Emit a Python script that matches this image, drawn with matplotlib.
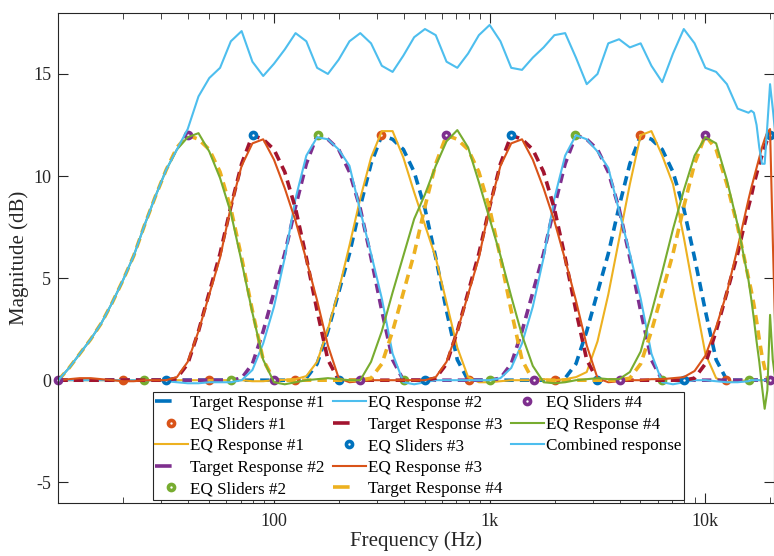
import numpy as np
import matplotlib
matplotlib.use('Agg')
import matplotlib.pyplot as plt
from matplotlib.lines import Line2D

plt.rcParams['font.family'] = ['Liberation Serif', 'DejaVu Serif']
plt.rcParams['axes.unicode_minus'] = False

# frequency grid: 1/6-octave steps (m/20 decades), finer near 20 kHz
m_grid = np.r_[np.arange(20, 85), np.arange(84.25, 86.51, 0.25)]
freq = 10 ** (m_grid / 20)

# EQ sliders (1/3-octave bands, every 4th band per set)
slider_f1 = [20, 50, 125, 315, 800, 2000, 5000, 12500]
slider_g1 = [0, 0, 0, 12, 0, 0, 12, 0]
slider_f2 = [25, 63, 160, 400, 1000, 2500, 6300, 16000]
slider_g2 = [0, 0, 12, 0, 0, 12, 0, 0]
slider_f3 = [31.5, 80, 200, 500, 1250, 3150, 8000, 20000]
slider_g3 = [0, 12, 0, 0, 12, 0, 0, 12]
slider_f4 = [10, 40, 100, 250, 630, 1600, 4000, 10000, 20000]
slider_g4 = [0, 12, 0, 0, 12, 0, 0, 12, 0]

bell = [0.1, 0.8, 2.4, 4.3, 6.2, 8.5, 10.6, 12, 11.8, 11.3, 10.2, 8.4, 6.0, 3.4, 1.0, 0]

target_1 = [0] * 23 + bell + [0] * 8 + bell + [0] * 2 + [0] * 10
target_2 = [0] * 17 + bell + [0] * 8 + bell + [0] * 8 + [0] * 10
target_3 = ([0] * 11 + bell + [0] * 8 + bell + [0] * 8
            + [0.1, 0.8, 2.4, 4.3, 6.2, 8.5]
            + [9.0, 9.6, 10.1, 10.6, 11.0, 11.4, 11.8, 12.0, 12.0, 12.0])
target_4 = ([0, 0.6, 1.3, 2.0, 2.8, 3.8, 4.9, 6.1, 7.6, 9.0, 10.3, 11.4, 12]
            + [11.8, 11.3, 10.2, 8.4, 6.0, 3.4, 1.0, 0]
            + [0] * 8 + bell + [0] * 8
            + [0.1, 0.8, 2.4, 4.3, 6.2, 8.5, 10.6, 12]
            + [11.3, 9.6, 7.5, 5.0]
            + [4.4, 3.7, 2.9, 2.0, 1.2, 0.6, 0.15, 0, 0, 0])

eq_1 = ([0] * 18 + [-0.05, -0.05, 0, 0.02]
        + [0.05, 0.2, 0.9, 2.5, 4.4, 6.6, 8.9, 10.9, 12.2, 12.2,
           10.9, 9.2, 7.6, 6.0, 3.8, 1.6, 0.15, -0.1, -0.1, -0.05]
        + [0, 0, 0, 0.05]
        + [0, 0.05, 0.15, 0.4, 1.9, 4.2, 6.9, 9.6, 12.0, 12.2,
           11.0, 9.6, 7.0, 4.1, 1.3, 0.1, -0.1]
        + [-0.05, 0] + [0] * 10)
eq_2 = ([0] * 10 + [-0.05, -0.1, -0.15, -0.15, -0.1, -0.1]
        + [-0.1, 0.0, 0.5, 1.8, 3.6, 6.0, 8.9, 11.0, 11.9, 11.8,
           11.3, 10.5, 8.3, 6.2, 4.0, 1.3, -0.1, -0.2, -0.1, 0]
        + [0, 0, 0, 0]
        + [0, 0.1, 0.6, 1.8, 3.6, 6.0, 8.9, 11.0, 12.0, 11.8,
           11.2, 10.4, 8.3, 6.2, 4.0, 1.3, -0.1, -0.2, -0.1, 0]
        + [0, -0.05, -0.1, -0.1, -0.05] + [0] * 10)
eq_3 = ([0, 0.05, 0.1, 0.1, 0.05, 0, -0.05, -0.05, 0, 0]
        + [0.0, 0.15, 0.9, 2.4, 4.2, 6.0, 8.5, 10.5, 11.6, 11.8,
           10.8, 9.4, 7.8, 5.9, 3.9, 1.7, 0.1, -0.1, -0.05, 0]
        + [0, 0, 0, 0]
        + [0.0, 0.15, 0.9, 2.4, 4.2, 6.0, 8.5, 10.5, 11.6, 11.8,
           10.8, 9.4, 7.8, 5.9, 3.9, 1.7, 0.1, -0.1, -0.05, 0]
        + [0, 0.05, 0.05, 0.1, 0.15, 0.45, 1.2, 2.6, 4.3, 6.5, 8.85]
        + [9.4, 9.9, 10.4, 10.9, 11.4, 11.8, 12.15, 12.3, 6.9, 2.0])
eq_4 = ([0, 0.6, 1.3, 2.0, 2.8, 3.8, 4.9, 6.1, 7.6, 9.0, 10.3, 11.3, 11.9]
        + [12.1, 11.2, 9.9, 8.2, 5.8, 3.3, 1.0, -0.1, -0.2, -0.1, 0, 0.05, 0.1, 0.05, 0]
        + [0.0, 0.9, 2.4, 4.3, 6.1, 7.9, 9.1, 10.5, 11.7, 12.25,
           11.4, 9.7, 7.9, 6.1, 4.1, 2.2, 0.7, -0.1, -0.15]
        + [-0.1, 0, 0.05, 0.1, 0.05, 0.05]
        + [0.4, 1.4, 3.3, 5.3, 7.4, 9.3, 11.0, 11.9, 11.6, 9.8, 7.6, 4.9]
        + [4.0, 3.0, 1.9, 0.9, -0.3, -1.4, -0.5, 3.2, 1.0, 0])
combined = ([0, 0.6, 1.3, 2.0, 2.8, 3.8, 4.9, 6.1, 7.6, 9.0, 10.3, 11.3, 12.3]
            + [13.9, 14.8, 15.3, 16.6, 17.1, 15.6, 14.9, 15.5, 16.2, 17.0,
               16.6, 15.3, 15.0, 15.7, 16.6, 17.0, 16.5, 15.4, 15.1, 15.9]
            + [16.8, 17.2, 16.9, 15.6, 15.3, 16.0, 16.9, 17.4, 16.6, 15.3,
               15.2, 15.8, 16.3, 16.9, 17.0, 15.8, 14.5, 15.0, 16.5, 16.7]
            + [16.3, 16.5, 15.4, 14.6, 16.0, 17.2, 16.5, 15.3, 15.1, 14.5, 13.3, 13.1]
            + [13.2, 13.1, 12.5, 11.4, 10.6, 10.6, 12.5, 14.5, 13.3, 12.0])

c_blue = '#0072BD'
c_orange = '#D95319'
c_yellow = '#EDB120'
c_purple = '#7E2F8E'
c_green = '#77AC30'
c_cyan = '#4DBEEE'
c_red = '#A2142F'
c_axis = '#262626'

fig = plt.figure(figsize=(7.74, 5.56), dpi=100)
ax = fig.add_axes([58.3 / 774, 53.3 / 556, 715.2 / 774, 490 / 556])

dash = (2.6, 1.7)
tw = 2.6
ew = 1.5

def target(y, color, label):
    ax.plot(freq, y, color=color, lw=tw, dashes=dash, label=label)

def sliders(f, g, color, label):
    ax.plot(f, g, ls='none', marker='o', ms=4.4, mew=2.6, mec=color,
            mfc='white', label=label, clip_on=False)

target(target_1, c_blue, 'Target Response #1')
sliders(slider_f1, slider_g1, c_orange, 'EQ Sliders #1')
ax.plot(freq, eq_1, color=c_yellow, lw=ew, label='EQ Response #1')
target(target_2, c_purple, 'Target Response #2')
sliders(slider_f2, slider_g2, c_green, 'EQ Sliders #2')
ax.plot(freq, eq_2, color=c_cyan, lw=ew, label='EQ Response #2')
target(target_3, c_red, 'Target Response #3')
sliders(slider_f3, slider_g3, c_blue, 'EQ Sliders #3')
ax.plot(freq, eq_3, color=c_orange, lw=ew, label='EQ Response #3')
target(target_4, c_yellow, 'Target Response #4')
sliders(slider_f4, slider_g4, c_purple, 'EQ Sliders #4')
ax.plot(freq, eq_4, color=c_green, lw=ew, label='EQ Response #4')
ax.plot(freq, combined, color=c_cyan, lw=ew, label='Combined response')

ax.set_xscale('log')
ax.set_xlim(10, 20700)
ax.set_ylim(-6, 18)
ax.set_xticks([100, 1000, 10000])
ax.set_xticklabels(['100', '1k', '10k'])
ax.set_yticks([-5, 0, 5, 10, 15])
ax.tick_params(which='both', direction='in', top=True, right=True,
               labelsize=13, colors=c_axis)
ax.tick_params(axis='x', which='major', pad=7.5)
ax.tick_params(axis='y', which='major', pad=5)
ax.tick_params(which='major', length=7, width=0.8)
ax.tick_params(which='minor', length=4, width=0.6)
for s in ax.spines.values():
    s.set_color(c_axis)
    s.set_linewidth(0.8)
ax.set_xlabel('Frequency (Hz)', fontsize=15, color=c_axis, labelpad=1)
ax.set_ylabel('Magnitude (dB)', fontsize=15, color=c_axis, labelpad=3)

# legend: dashed handles show one short dash, blanks pad the last column
handles, labels = ax.get_legend_handles_labels()
proxy = []
for h, lab in zip(handles, labels):
    if lab.startswith('Target'):
        proxy.append(Line2D([], [], color=h.get_color(), lw=tw, dashes=(4.6, 10)))
    else:
        proxy.append(h)
blank = Line2D([], [], alpha=0)
proxy += [blank, blank]
labels += ['', '']
leg = ax.legend(proxy, labels, ncol=3, loc='lower center', bbox_to_anchor=(0.5035, 0.0055),
                borderaxespad=0, fontsize=12.3, handlelength=1.9, handletextpad=0.15,
                columnspacing=0.5, labelspacing=0.33, borderpad=0.15, numpoints=1,
                frameon=True, fancybox=False, edgecolor=c_axis, framealpha=1)
leg.get_frame().set_linewidth(0.8)

fig.savefig('out.png', dpi=100)
